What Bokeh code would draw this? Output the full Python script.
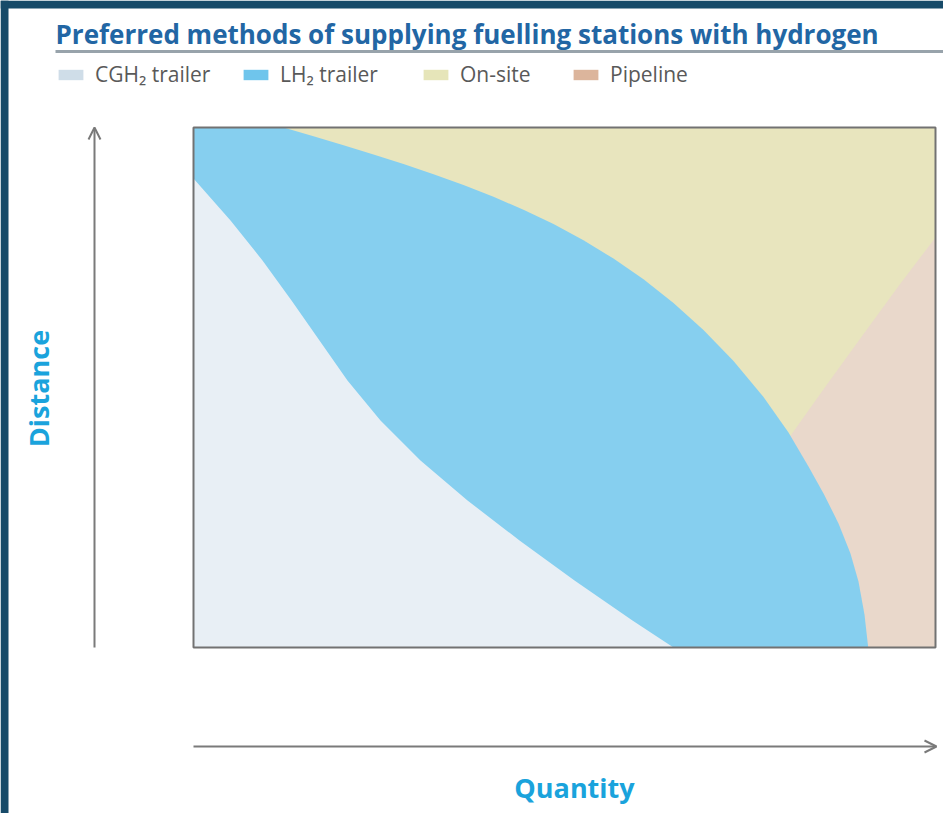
import math
from bokeh.plotting import figure
from bokeh.models import Range1d, Legend, LegendItem, Label, Arrow, OpenHead
from bokeh.embed import file_html
from bokeh.resources import INLINE

# ---------------- data (chart units: Quantity 0..1, Distance 0..1) ----------------
title_text = "Preferred methods of supplying fuelling stations with hydrogen"
categories = ["CGH\u2082 trailer", "LH\u2082 trailer", "On-site", "Pipeline"]
x_label = "Quantity"
y_label = "Distance"

# boundary between CGH2 trailer (below-left) and LH2 trailer
cgh2_q = [0.0000, 0.0499, 0.0930, 0.1321, 0.1698, 0.2075, 0.2520, 0.3059, 0.3693, 0.4394, 0.5135, 0.5916, 0.6469]
cgh2_d = [0.9019, 0.8212, 0.7442, 0.6673, 0.5904, 0.5135, 0.4365, 0.3596, 0.2827, 0.2058, 0.1288, 0.0519, 0.0000]

# boundary between LH2 trailer (below-left) and On-site / Pipeline
lh2_q = [0.1213, 0.1617, 0.2022, 0.2426, 0.2830, 0.3235, 0.3639, 0.4043, 0.4447, 0.4852, 0.5256, 0.5660, 0.6065,
         0.6469, 0.6873, 0.7278, 0.7682, 0.8019, 0.8288, 0.8491, 0.8693, 0.8854, 0.8962, 0.9043, 0.9093]
lh2_d = [1.0000, 0.9833, 0.9660, 0.9481, 0.9296, 0.9100, 0.8892, 0.8667, 0.8419, 0.8142, 0.7831, 0.7479, 0.7081,
         0.6625, 0.6106, 0.5512, 0.4819, 0.4137, 0.3483, 0.2963, 0.2387, 0.1810, 0.1271, 0.0637, 0.0000]

# boundary between On-site (upper-left) and Pipeline (right)
pipe_q = [0.8046, 0.8518, 0.9016, 0.9528, 1.0000]
pipe_d = [0.4071, 0.5019, 0.6000, 0.7000, 0.7885]

# ---------------- styles ----------------
region_colors = {"cgh2": "#e8eff5", "lh2": "#86cfef", "onsite": "#e8e5be", "pipe": "#e9d8cb"}
legend_colors = ["#cfdde8", "#6fc5ec", "#e6e5b9", "#dcb59c"]
FRAME_DARK = "#174b69"
FONT = "Open Sans"

# ---------------- layout geometry (canvas pixels) ----------------
W, H = 943, 813
FL, FR, FT, FB = 193, 935, 127, 647   # chart rectangle
SX, SY = FR - FL, FB - FT

def X(px):
    return (px - FL) / SX

def Y(py):
    return (FB - py) / SY

p = figure(width=W, height=H, x_range=Range1d(X(0), X(W)), y_range=Range1d(Y(H), Y(0)),
           output_backend="svg", toolbar_location=None, min_border=0,
           background_fill_color="white", border_fill_color="white")
p.xaxis.visible = False
p.yaxis.visible = False
p.xgrid.visible = False
p.ygrid.visible = False
p.outline_line_color = None

# dark page frame (top and left edges of the original picture)
p.quad(left=[X(0), X(0)], right=[X(W + 10), X(8)], top=[Y(0), Y(0)], bottom=[Y(8), Y(H + 10)],
       fill_color=FRAME_DARK, line_color=None)

# regions
p.quad(left=[0], right=[1], bottom=[0], top=[1], fill_color=region_colors["onsite"], line_color=None)
p.patch(pipe_q + [1.0, pipe_q[0]], pipe_d + [0.0, 0.0],
        fill_color=region_colors["pipe"], line_color=None)
p.patch([0.0] + lh2_q + [0.0], [1.0] + lh2_d + [0.0],
        fill_color=region_colors["lh2"], line_color=None)
p.patch(cgh2_q + [0.0], cgh2_d + [0.0],
        fill_color=region_colors["cgh2"], line_color=None)
p.quad(left=[0], right=[1], bottom=[0], top=[1], fill_color=None,
       line_color="#727272", line_width=2)

# legend (one Legend per entry, so each swatch sits where it does in the original)
nan = float("nan")
swatch_left = [55, 240, 420, 570]
for name, col, sx in zip(categories, legend_colors, swatch_left):
    r = p.quad(left=[nan], right=[nan], bottom=[nan], top=[nan], fill_color=col, line_color=None)
    lg = Legend(items=[LegendItem(label=name, renderers=[r])], location=(sx, H - 88),
                padding=0, margin=0, glyph_width=31, glyph_height=13,
                label_standoff=9, label_height=13,
                label_text_font=FONT, label_text_font_size="21px", label_text_color="#595959",
                border_line_alpha=0, background_fill_alpha=0)
    p.add_layout(lg)

# title and rule
p.add_layout(Label(x=X(55), y=Y(33), text=title_text, text_font=FONT, text_font_size="26px",
                   text_font_style="bold", text_color="#2266a4", text_baseline="alphabetic"))
p.segment(x0=[X(55)], y0=[Y(51)], x1=[X(960)], y1=[Y(51)], line_color="#98a3ab", line_width=3)

# axis arrows
p.add_layout(Arrow(x_start=X(94), y_start=Y(647), x_end=X(94), y_end=Y(127),
                   line_color="#7a7a7a", line_width=2,
                   end=OpenHead(size=12, line_color="#7a7a7a", line_width=2)))
p.add_layout(Arrow(x_start=X(193), y_start=Y(746), x_end=X(936), y_end=Y(746),
                   line_color="#7a7a7a", line_width=2,
                   end=OpenHead(size=12, line_color="#7a7a7a", line_width=2)))

# axis labels
p.add_layout(Label(x=X(38), y=Y(388), text=y_label, angle=math.pi / 2, text_font=FONT,
                   text_font_size="27px", text_font_style="bold", text_color="#1aa3dc",
                   text_align="center", text_baseline="middle"))
p.add_layout(Label(x=X(574), y=Y(787), text=x_label, text_font=FONT,
                   text_font_size="27px", text_font_style="bold", text_color="#1aa3dc",
                   text_align="center", text_baseline="alphabetic"))

open("out.html", "w").write(file_html(p, INLINE))
